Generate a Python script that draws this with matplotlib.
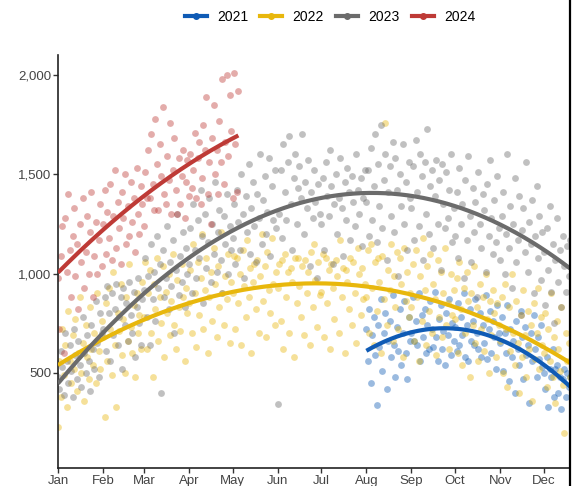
import numpy as np
import pandas as pd
import matplotlib
matplotlib.use("Agg")
import matplotlib.pyplot as plt
from matplotlib.lines import Line2D

plt.rcParams['font.family'] = ['Liberation Sans', 'DejaVu Sans']

# ── Data: daily values, each series starts on its own date ──────────────────
years = ["2021", "2022", "2023", "2024"]
starts = ["2021-08-01", "2022-01-01", "2023-01-01", "2024-01-01"]
colors = ["#0F5BB5", "#E8B70C", "#6B6B6B", "#BE3A36"]

vals_2021 = [
    # Aug
    720, 560, 820, 450, 690, 780, 590, 340, 740, 630, 870, 510, 700, 800, 420, 660,
    760, 580, 890, 640, 480, 730, 610, 820, 540, 700, 860, 600, 470, 780, 660,
    # Sep
    700, 880, 660, 760, 640, 900, 560, 790, 680, 820, 600, 740, 620, 860, 720,
    630, 910, 680, 560, 770, 840, 620, 710, 540, 800, 690, 870, 590, 750, 660,
    # Oct
    730, 610, 850, 640, 780, 690, 900, 580, 740, 560, 820, 660, 760, 640, 870, 700,
    620, 800, 580, 740, 650, 890, 570, 720, 810, 600, 760, 680, 520, 840, 700,
    # Nov
    650, 780, 510, 700, 600, 840, 460, 720, 580, 660, 400, 760, 620, 540, 810,
    680, 470, 730, 590, 640, 350, 700, 560, 790, 620, 480, 680, 570, 740, 530,
    # Dec
    500, 420, 580, 330, 520, 480, 620, 380, 520, 540, 400, 480, 320, 470, 520,
    380, 500, 430, 480,
]

vals_2022 = [
    # Jan
    230, 560, 380, 720, 490, 640, 330, 810, 560, 450, 690, 520, 770, 410, 600, 880,
    500, 650, 360, 740, 580, 470, 830, 620, 540, 700, 450, 900, 610, 520, 760,
    # Feb
    680, 280, 850, 560, 930, 720, 490, 1010, 640, 330, 800, 710, 950, 590,
    770, 500, 880, 660, 1050, 730, 600, 840, 480, 900, 700, 790, 620, 960,
    # Mar
    780, 1060, 620, 900, 1020, 700, 480, 950, 820, 1080, 660, 880, 750, 1040, 580, 910,
    800, 1000, 690, 860, 1100, 740, 620, 970, 830, 710, 1050, 880, 560, 930, 800,
    # Apr
    850, 1020, 700, 1150, 900, 630, 1060, 790, 980, 1200, 720, 920, 1080, 600, 880,
    1010, 760, 1130, 950, 680, 1040, 830, 1210, 900, 740, 990, 870, 1100, 650, 960,
    # May
    900, 1090, 720, 1080, 850, 1000, 640, 1120, 940, 780, 1170, 880, 1030, 600, 960, 1050,
    820, 1070, 700, 990, 1200, 860, 1040, 680, 1110, 920, 800, 1180, 950, 740, 1010,
    # Jun
    930, 1050, 760, 1070, 620, 1100, 880, 1010, 700, 1030, 960, 580, 1080, 850, 1080,
    940, 780, 1040, 690, 1070, 900, 1010, 640, 1110, 830, 1150, 970, 730, 1060, 890,
    # Jul
    910, 1100, 680, 1080, 850, 1020, 620, 1050, 930, 770, 1070, 990, 700, 1170, 880, 1030,
    600, 1020, 960, 820, 1080, 740, 1060, 900, 650, 1130, 1000, 790, 1030, 870, 950,
    # Aug
    880, 1120, 700, 1150, 930, 640, 1060, 810, 1080, 960, 600, 1090, 870, 1760, 740, 1020,
    920, 1150, 660, 990, 830, 1110, 720, 1080, 950, 580, 1130, 860, 1010, 780, 900,
    # Sep
    830, 1050, 660, 1120, 880, 560, 990, 760, 1180, 920, 640, 1040, 810, 1100, 700,
    950, 870, 590, 1070, 780, 1010, 680, 900, 1130, 740, 850, 620, 1000, 790, 920,
    # Oct
    770, 980, 600, 1060, 820, 540, 930, 700, 1010, 860, 480, 900, 740, 1040, 650, 830,
    560, 950, 720, 880, 610, 1000, 770, 500, 860, 690, 920, 800, 580, 850, 740,
    # Nov
    660, 880, 500, 950, 720, 430, 830, 610, 1000, 700, 540, 860, 650, 400, 790,
    580, 920, 690, 480, 810, 620, 740, 360, 850, 570, 700, 930, 520, 780, 640,
    # Dec
    600, 800, 430, 720, 560, 900, 480, 680, 350, 760, 620, 510, 830, 440, 200,
    700, 560, 650, 480,
]

vals_2023 = [
    # Jan
    480, 420, 610, 530, 390, 700, 560, 450, 640, 510, 380, 720, 590, 470, 660, 540,
    430, 780, 600, 500, 690, 560, 410, 740, 620, 520, 860, 650, 480, 800, 700,
    # Feb
    720, 880, 610, 940, 800, 560, 900, 690, 820, 950, 640, 780, 880, 520,
    930, 740, 850, 660, 960, 790, 700, 910, 580, 830, 980, 750, 640, 870,
    # Mar
    920, 1080, 780, 990, 640, 1150, 870, 1010, 760, 1190, 930, 1050, 400, 1120, 880, 980,
    1240, 820, 1060, 940, 1170, 700, 1020, 1300, 890, 1090, 960, 1210, 830, 1130, 1000,
    # Apr
    1050, 1230, 900, 1350, 1120, 980, 1270, 1080, 1420, 1190, 850, 1300, 1030, 1160, 1380,
    960, 1250, 1100, 1460, 1010, 1210, 1320, 1070, 900, 1290, 1150, 1400, 1000, 1240, 1120,
    # May
    1180, 1350, 1050, 1420, 1260, 1120, 1500, 1300, 980, 1390, 1210, 1550, 1100, 1330, 1460, 1240,
    1060, 1400, 1280, 1600, 1150, 1370, 1490, 1200, 1310, 1580, 1090, 1440, 1270, 1520, 1230,
    # Jun
    345, 1300, 1520, 1180, 1650, 1410, 1270, 1560, 1690, 1350, 1120, 1480, 1600, 1250, 1430,
    1540, 1380, 1700, 1200, 1460, 1330, 1570, 1040, 1410, 1280, 1520, 1360, 980, 1450, 1300,
    # Jul
    1250, 1480, 1120, 1560, 1390, 1290, 1620, 1440, 1050, 1350, 1500, 1200, 1380, 1580, 1330, 1090,
    1460, 1270, 1530, 1410, 1170, 1490, 1360, 1240, 1600, 1420, 1300, 1480, 1140, 1380, 1520,
    # Aug
    1360, 1520, 1190, 1630, 1270, 1440, 1700, 1160, 1550, 1340, 1750, 1230, 1470, 1600, 1070, 1410,
    1540, 1290, 1660, 1210, 1580, 1420, 990, 1500, 1340, 1650, 1250, 1460, 1120, 1560, 1380,
    # Sep
    1330, 1540, 1170, 1670, 1410, 1240, 1600, 1490, 1070, 1560, 1300, 1730, 1200, 1440, 1520,
    1130, 1390, 1570, 1250, 1470, 1020, 1550, 1350, 1230, 1510, 1280, 1420, 1600, 1160, 1330,
    # Oct
    1190, 1410, 1080, 1530, 1250, 1350, 980, 1470, 1170, 1590, 1290, 1060, 1430, 1210, 1360, 880,
    1510, 1250, 1130, 1400, 1320, 1010, 1450, 1190, 1570, 1280, 1100, 1370, 1160, 1490, 1230,
    # Nov
    1070, 1290, 1410, 1000, 1200, 1600, 1130, 1340, 930, 1250, 1480, 1060, 1170, 1390, 790,
    1220, 1330, 1110, 1560, 1010, 1260, 1150, 1370, 900, 1190, 1440, 1080, 1290, 970, 1210,
    # Dec
    1110, 840, 1230, 1020, 1340, 910, 1150, 750, 1070, 1280, 960, 1120, 830, 1190, 1040,
    910, 1140, 990, 1170,
]

vals_2024 = [
    # Jan
    980, 720, 1090, 1240, 600, 1280, 1010, 1400, 1120, 880, 1190, 1330, 990, 1150, 820, 1250,
    1060, 1380, 930, 1110, 1290, 1000, 1210, 1410, 880, 1090, 1260, 1000, 1170, 1350, 1040,
    # Feb
    1250, 1420, 1100, 1310, 1180, 1450, 1070, 1290, 1520, 1130, 1360, 1230, 1050, 1410, 1280,
    1500, 1150, 1340, 1190, 1460, 1260, 1380, 1110, 1530, 1300, 1200, 1440, 1350, 1240,
    # Mar
    1510, 1380, 1620, 1380, 1700, 1450, 1320, 1780, 1550, 1320, 1650, 1490, 1840, 1400, 1350, 1590,
    1470, 1760, 1300, 1520, 1680, 1420, 1300, 1580, 1350, 1490, 1620, 1280, 1460, 1570, 1390,
    # Apr
    1600, 1430, 1520, 1710, 1380, 1580, 1660, 1350, 1480, 1750, 1620, 1890, 1400, 1560, 1250,
    1680, 1850, 1500, 1620, 1400, 1770, 1560, 1980, 1450, 1660, 2000, 1590, 1900, 1720, 1380,
    # May
    2010, 1650, 1410, 1920,
]

series = [vals_2021, vals_2022, vals_2023, vals_2024]
month_labels = ["Jan", "Feb", "Mar", "Apr", "May", "Jun",
                "Jul", "Aug", "Sep", "Oct", "Nov", "Dec"]

# ── Plot ─────────────────────────────────────────────────────────────────────
W, H = 576, 486
fig = plt.figure(figsize=(W / 100, H / 100), dpi=100)
ax = fig.add_axes([58 / W, 1 - 468 / H, (570 - 58) / W, (468 - 55) / H])

# all series share a common day-of-year axis (days since Jan 1)
xs = []
for vals, start in zip(series, starts):
    d0 = pd.Timestamp(start)
    offset = (d0 - pd.Timestamp(year=d0.year, month=1, day=1)).days
    xs.append(offset + np.arange(len(vals)))

for x, vals, c in zip(xs, series, colors):
    ax.scatter(x, vals, s=24, color=c, alpha=0.42, linewidths=0, zorder=2)

# quadratic trend per year
for x, vals, c in zip(xs, series, colors):
    coef = np.polyfit(x, vals, 2)
    xx = np.linspace(x.min(), x.max(), 200)
    ax.plot(xx, np.polyval(coef, xx), color=c, lw=3.0, solid_capstyle="butt", zorder=3)

month_pos = [(pd.Timestamp(2023, m, 1) - pd.Timestamp(2023, 1, 1)).days for m in range(1, 13)]
ax.set_xticks(month_pos)
ax.set_xticklabels(month_labels)
ax.set_xlim(0, 352)
ax.set_ylim(22, 2100)
ax.set_yticks([500, 1000, 1500, 2000])
ax.set_yticklabels(["500", "1,000", "1,500", "2,000"])

for side in ["top", "right"]:
    ax.spines[side].set_visible(False)
for side in ["left", "bottom"]:
    ax.spines[side].set_linewidth(1.2)
    ax.spines[side].set_color("#222222")
ax.tick_params(axis="both", length=3.5, width=1.0, color="#333333",
               labelsize=9.5, labelcolor="#444444", pad=1.5)

# right frame edge of the cropped panel
fig.add_artist(Line2D([570 / W, 570 / W], [0, 1], color="black", lw=1.6))

handles = [Line2D([0], [0], color=c, lw=3.0, marker="o", markersize=4) for c in colors]
fig.legend(handles, years, loc="center", bbox_to_anchor=(330 / W, 1 - 17 / H),
           ncol=4, frameon=False, fontsize=10, handlelength=1.6,
           handletextpad=0.75, columnspacing=0.85)

fig.savefig("out.png", dpi=100)
